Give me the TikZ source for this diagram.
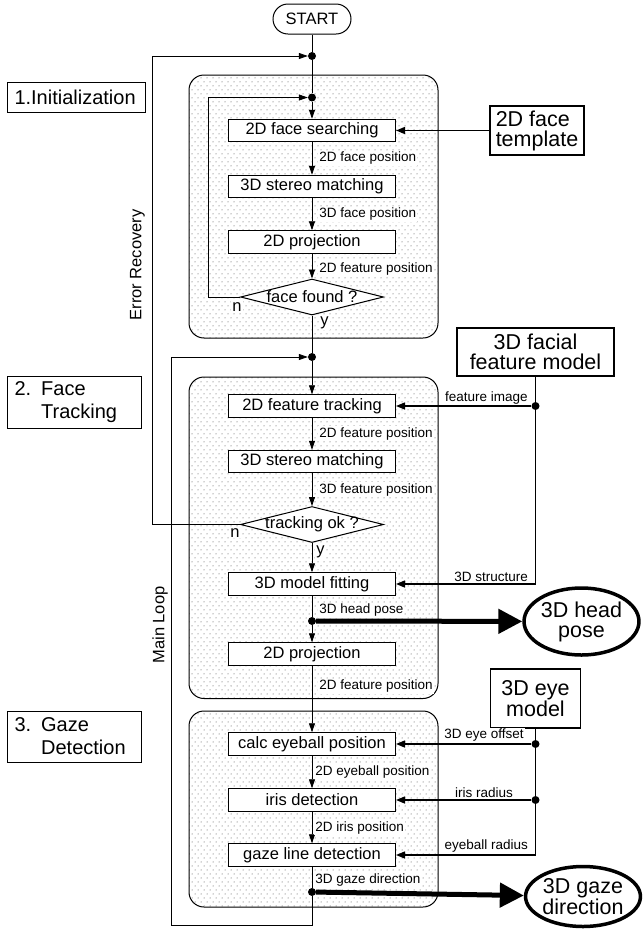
\documentclass[tikz,border=0pt]{standalone}
\usepackage{fontspec}
\setmainfont{Liberation Sans}
\usetikzlibrary{positioning,arrows.meta,shapes.geometric,patterns}

\pgfdeclarepatternformonly{paneldots}{\pgfpoint{-1pt}{-1pt}}{\pgfpoint{7pt}{9pt}}{\pgfpoint{6pt}{8pt}}{%
  \pgfpathcircle{\pgfpoint{0pt}{0pt}}{0.5pt}%
  \pgfpathcircle{\pgfpoint{3pt}{4pt}}{0.5pt}%
  \pgfusepath{fill}}

\tikzset{
  stepbox/.style={draw, fill=white, line width=1pt, minimum width=167pt, minimum height=22.5pt, inner sep=0pt, font=\fontsize{16.5}{18}\selectfont},
  decision/.style={draw, fill=white, diamond, line width=1pt, minimum width=143pt, minimum height=36pt, inner sep=0pt, font=\fontsize{16.5}{18}\selectfont},
  junction/.style={circle, fill=black, minimum size=8pt, inner sep=0pt},
  phase/.style={draw, line width=1pt, align=left, inner xsep=7.5pt, inner ysep=3pt, font=\fontsize{20}{23}\selectfont},
  source/.style={draw, fill=white, line width=1.6pt, align=center, inner sep=0pt, font=\fontsize{21.5}{20}\selectfont},
  result/.style={draw, fill=white, ellipse, line width=3.5pt, align=center, inner sep=0pt, font=\fontsize{21.5}{20}\selectfont},
  panel/.style={draw, line width=1pt, rounded corners=15pt, pattern=paneldots, pattern color=black!75},
  flow/.style={-{Triangle[length=9pt,width=6pt]}, line width=0.8pt},
  feed/.style={-{Triangle[length=9pt,width=7pt]}, line width=1.4pt},
  resarrow/.style={-{Triangle[length=24pt,width=24pt]}, line width=5pt},
  lbl/.style={font=\fontsize{13.5}{15}\selectfont, fill=white, inner sep=1pt},
  yn/.style={font=\fontsize{16.5}{18}\selectfont, fill=white, inner sep=1pt},
  side/.style={font=\fontsize{16.5}{18}\selectfont, rotate=90}
}

\begin{document}
\begin{tikzpicture}[x=1pt, y=-1pt, node distance=56pt, on grid]
   \useasboundingbox (0,0) rectangle (643,930);
   % background panels
   \draw[panel] (189,75) rectangle (438,338);
   \draw[panel] (189,377) rectangle (438,698.5);
   \draw[panel] (189,711) rectangle (438,907);

   % phase titles
   \node[phase, text width=123pt, minimum height=30pt] (init) at (76,97) {1.Initialization};
   \node[phase, text width=119pt, minimum height=52pt] (facetrack) at (74,402) {2. Face\\\phantom{2. }Tracking};
   \node[phase, text width=119pt, minimum height=51pt] (gazedet) at (74,736.5) {3. Gaze\\\phantom{3. }Detection};

   % main column
   \node[draw, line width=1pt, rounded corners=15pt, minimum width=78pt, minimum height=30pt, font=\fontsize{16.5}{18}\selectfont] (start) at (312,19) {START};
   \node[junction] (d1) at (312,56) {};
   \node[junction] (d2) at (312,97.5) {};
   \node[stepbox] (search) at (312,130.5) {2D face searching};
   \node[stepbox, below=56pt of search] (stereo) {3D stereo matching};
   \node[stepbox, below=55.5pt of stereo] (proj) {2D projection};
   \node[decision, below=55pt of proj] (found) {\makebox[0pt]{face found ?}};
   \node[junction] (d3) at (312,357) {};
   \node[stepbox, below=49pt of d3] (ftrack) {2D feature tracking};
   \node[stepbox, below=55.5pt of ftrack] (stereo2) {3D stereo matching};
   \node[decision, below=63pt of stereo2] (trackok) {\makebox[0pt]{tracking ok ?}};
   \node[stepbox, below=59.5pt of trackok] (fit) {3D model fitting};
   \node[junction, below=37pt of fit] (d4) {};
   \node[stepbox, below=33pt of d4] (proj2) {2D projection};
   \node[stepbox, below=90pt of proj2] (calc) {calc eyeball position};
   \node[stepbox, below=56pt of calc] (iris) {iris detection};
   \node[stepbox, below=55pt of iris] (gazeline) {gaze line detection};
   \node[junction, below=37pt of gazeline] (d5) {};

   % models and results
   \node[source, minimum width=93.5pt, minimum height=49pt, align=left] (template) at (537,130.5) {2D face\\template};
   \node[source, minimum width=157pt, minimum height=48pt] (fmodel) at (535.5,352) {3D facial\\feature model};
   \node[source, minimum width=90pt, minimum height=59pt] (emodel) at (535.5,698.5) {3D eye\\model};
   \node[junction] (fj) at (fmodel |- ftrack) {};
   \node[junction] (ej1) at (emodel |- calc) {};
   \node[junction] (ej2) at (emodel |- iris) {};
   \node[result, minimum width=114pt, minimum height=67pt] (headpose) at (581.5,621.5) {3D head\\pose};
   \node[result, minimum width=114pt, minimum height=60pt] (gazedir) at (583,896.5) {3D gaze\\direction};

   \coordinate (erc) at (152.7,524.5);
   \coordinate (ilc) at (208.5,297);
   \coordinate (mlc) at (171,925);
   \node[side] (errlabel) at (137.5,265) {Error Recovery};
   \node[side] (looplabel) at (160,625) {Main Loop};

   \draw[line width=0.8pt] (start) -- (d1) -- (d2);
   \draw[flow] (trackok.west) -- node[yn, pos=0, anchor=north, xshift=-5pt, yshift=-2.5pt] {n} (erc) |- (d1);
   \draw[flow] (found.west) -- node[yn, pos=0, anchor=north, xshift=-3pt, yshift=-4pt] {n} (ilc) |- (d2);
   \draw[flow] (d2) -- (search);
   \draw[flow] (search) -- node[lbl, right=6pt] {2D face position} (stereo);
   \draw[flow] (stereo) -- node[lbl, right=6pt] {3D face position} (proj);
   \draw[flow] (proj) -- node[lbl, right=6pt, pos=0.6] {2D feature position} (found);
   \draw[line width=0.8pt] (found) -- node[yn, right=7pt, pos=0.2] {y} (d3);
   \draw[feed] (template) -- (search);

   \draw[flow] (d3) -- (ftrack);
   \draw[flow] (ftrack) -- node[lbl, right=6pt] {2D feature position} (stereo2);
   \draw[flow] (stereo2) -- node[lbl, right=6pt] {3D feature position} (trackok);
   \draw[flow] (trackok) -- node[yn, right=3pt, pos=0.3] {y} (fit);
   \draw[line width=0.8pt] (fit) -- node[lbl, right=6pt, pos=0.7] {3D head pose} (d4);
   \draw[flow] (d4) -- (proj2);
   \draw[resarrow] (d4) -- (headpose);
   \draw[line width=1.4pt] (fmodel) -- (fj);
   \draw[feed] (fj) -- node[lbl, pos=0, anchor=south east, xshift=-2pt] {feature image} (ftrack);
   \draw[feed] (fj) |- node[lbl, pos=0.5, anchor=south east, xshift=-6pt, yshift=1pt] {3D structure} (fit);

   \draw[flow] (proj2) -- node[lbl, right=6pt, pos=0.31] {2D feature position} (calc);
   \draw[flow] (calc) -- node[lbl, right=2pt] {2D eyeball position} (iris);
   \draw[flow] (iris) -- node[lbl, right=2pt] {2D iris position} (gazeline);
   \draw[line width=0.8pt] (gazeline) -- node[lbl, right=2pt, pos=0.65] {3D gaze direction} (d5);
   \draw[resarrow] (d5) -- (gazedir);
   \draw[flow] (d5) |- (mlc) |- (d3);
   \draw[line width=1.4pt] (emodel) -- (ej1) -- (ej2);
   \draw[feed] (ej1) -- node[lbl, pos=0, anchor=south east, xshift=-6pt, yshift=1pt] {3D eye offset} (calc);
   \draw[feed] (ej2) -- node[lbl, pos=0.35, anchor=south, yshift=1pt] {iris radius} (iris);
   \draw[feed] (ej2) |- node[lbl, pos=0.5, anchor=south east, xshift=-6pt, yshift=1pt] {eyeball radius} (gazeline);
\end{tikzpicture}
\end{document}
